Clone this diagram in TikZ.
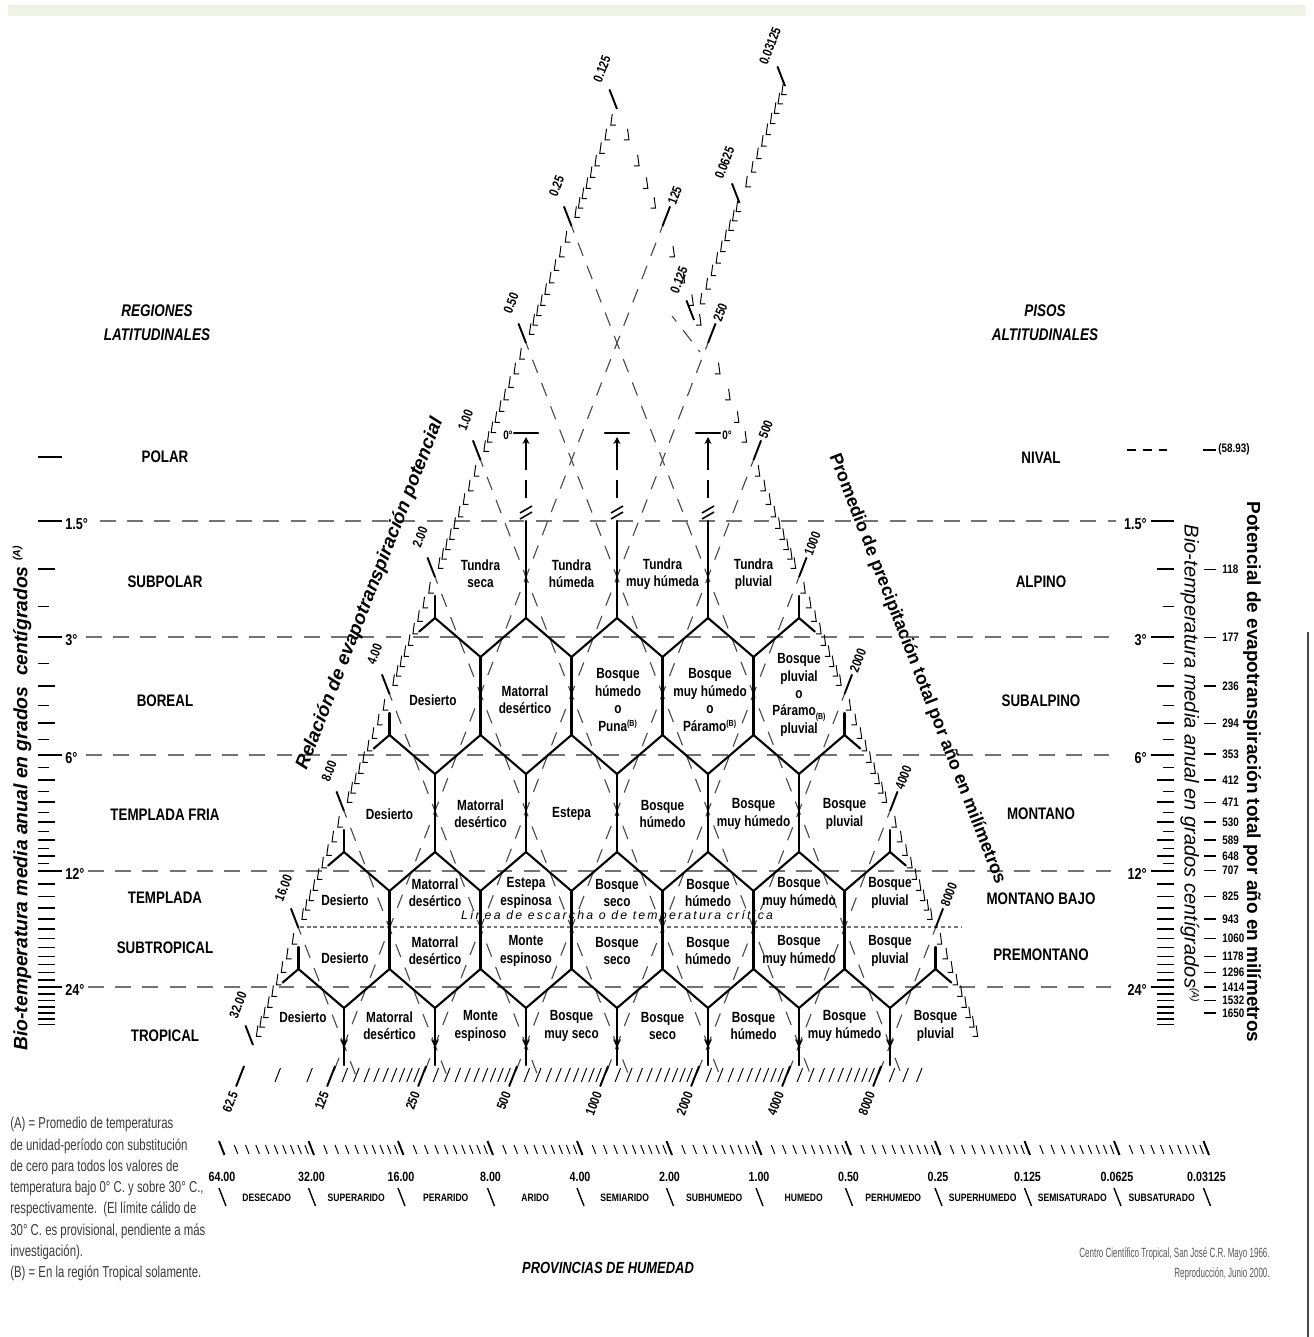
\documentclass[tikz,border=0pt]{standalone}
\usepackage{fontspec}
\setmainfont{Liberation Sans}
\newfontfamily\narrowfont{Liberation Sans}[FakeStretch=0.8]
\newfontfamily\notefont{Liberation Sans}[FakeStretch=0.72]
\newfontfamily\creditfont{Liberation Sans}[FakeStretch=0.6]
\newfontfamily\spacedfont{Liberation Sans}[LetterSpace=18]
\usetikzlibrary{arrows.meta}
\definecolor{InkGray}{HTML}{737373}
\definecolor{BandGreen}{HTML}{EEF4E2}
\definecolor{NoteGray}{HTML}{3A3A3A}
\definecolor{FrameGray}{HTML}{4A4A4A}
\newcommand{\supB}{\textsuperscript{\fontsize{5}{5}\selectfont(B)}}
\newcommand{\subB}{\raisebox{-0.4ex}{\fontsize{5}{5}\selectfont(B)}}
\newcommand{\supA}{\textsuperscript{\fontsize{6}{6}\selectfont(A)}}
\tikzset{
  hexedge/.style={line width=1.2pt, line cap=round, line join=round},
  templine/.style={draw=InkGray, line width=1.15pt, dash pattern=on 9pt off 6.5pt},
  gridline/.style={draw=black!70, line width=0.65pt, dash pattern=on 8pt off 6.22pt, dash phase=4pt},
  frostline/.style={draw=InkGray, line width=0.9pt, dash pattern=on 2.2pt off 1.6pt},
  minortick/.style={line width=0.55pt},
  majortick/.style={line width=1.1pt},
  zone/.style={font=\narrowfont\bfseries\fontsize{8.4}{9.9}\selectfont, align=center, inner sep=0pt},
  region/.style={font=\narrowfont\bfseries\fontsize{9.5}{11}\selectfont, inner sep=0pt},
  paneltitle/.style={font=\narrowfont\bfseries\itshape\fontsize{9.6}{13.5}\selectfont, align=center, inner sep=0pt},
  degree/.style={font=\narrowfont\bfseries\fontsize{9}{10}\selectfont, inner sep=0pt},
  petnum/.style={font=\narrowfont\bfseries\fontsize{7}{8}\selectfont, inner sep=0pt, anchor=west},
  scalenum/.style={font=\narrowfont\bfseries\fontsize{7.6}{9}\selectfont, inner sep=0pt},
  province/.style={font=\narrowfont\bfseries\fontsize{6.1}{8}\selectfont, inner sep=0pt},
  frosttext/.style={font=\spacedfont\itshape\fontsize{7}{8}\selectfont, inner sep=0pt},
}

\begin{document}
\begin{tikzpicture}[x=0.02cm, y=-0.02cm]
  \useasboundingbox (0,0) rectangle (1313,1337);
  \fill[BandGreen] (8,5) rectangle (1306,16);
  \draw[FrameGray, line width=1.3pt] (1308,632) -- (1308,1337);

  % triangle grid
  \foreach \dv in {0,-2,...,-12}
    \draw[gridline] ({617+45.5*(\dv/2-1)},{343+117*(-\dv/2-1)}) -- ({617+45.5*(\dv+6.256)},1075);
  \foreach \cv in {0,2,...,12}
    \draw[gridline] ({617+45.5*(\cv/2+1)},{343+117*(\cv/2-1)}) -- ({617+45.5*(\cv-6.256)},1075);
  \draw[gridline] (672,316) -- (700,352);

  % belts
  \foreach \yy/\xa in {521/100, 637/86, 755/86, 871/88, 987/88}
    \draw[templine] (\xa,\yy) -- (1116,\yy);
  \draw[frostline] (300,927) -- (962,927);
  \node[frosttext] (frost) at (617,916) {Línea de escarcha o de temperatura crítica};

  % hexagon edges
  \foreach \kk in {0,...,4}{
    \pgfmathtruncatemacro\mlast{2+\kk}
    \pgfmathsetmacro\ytop{\kk==0 ? 521 : 540+117*\kk}
    \pgfmathsetmacro\ybot{\kk==4 ? 1065 : 618+117*\kk}
    \foreach \mv in {0,...,\mlast}
      \draw[hexedge] ({526-45.5*\kk+91*\mv},\ytop) -- ({526-45.5*\kk+91*\mv},\ybot);
  }
  \foreach \kk in {0,...,3}{
    \pgfmathtruncatemacro\mlast{3+\kk}
    \pgfmathsetmacro\ybot{618+117*\kk}
    \foreach \mv in {-1,...,\mlast}{
      \pgfmathsetmacro\xj{526-45.5*\kk+91*\mv}
      \pgfmathsetmacro\wl{\mv==-1 ? 0.35 : 1}
      \pgfmathsetmacro\wr{\mv==\mlast ? 0.35 : 1}
      \draw[hexedge] ({\xj-45.5*\wl},{\ybot+39*\wl}) -- (\xj,\ybot) -- ({\xj+45.5*\wr},{\ybot+39*\wr});
    }
    \draw[hexedge] ({435-45.5*\kk},\ybot) -- ++(0,-22);
    \draw[hexedge] ({799+45.5*\kk},\ybot) -- ++(0,-22);
  }
  \foreach \mv in {0,...,6}
    \draw[hexedge, -{Stealth[length=5pt, width=4.5pt]}] ({344+91*\mv},1020) -- ({344+91*\mv},1048);

  % frost limit markers
  \foreach \xx in {526,617,708}{
    \draw[hexedge] ({\xx-12},433) -- ({\xx+12},433);
    \draw[line width=1.1pt, -{Stealth[length=4pt, width=4pt]}] (\xx,452) -- (\xx,437);
    \draw[line width=1.1pt, dash pattern=on 10pt off 6pt] (\xx,452) -- (\xx,505);
    \draw[line width=0.9pt] ({\xx-6},513) -- ({\xx+6},506) ({\xx-6},519) -- ({\xx+6},512);
  }
  \node[font=\narrowfont\bfseries\fontsize{7}{8}\selectfont, anchor=east, inner sep=0pt] (zeroL) at (513,435) {0°};
  \node[font=\narrowfont\bfseries\fontsize{7}{8}\selectfont, anchor=west, inner sep=0pt] (zeroR) at (722,435) {0°};

  % life zones
  \foreach \lab [count=\n] in {{Tundra\\seca},{Tundra\\húmeda},{Tundra\\muy húmeda},{Tundra\\pluvial}}
    \node[zone] (tundra\n) at ({389.5+91*\n},574) {\lab};
  \node[zone] (boreal1) at (433,700) {Desierto};
  \node[zone] (boreal2) at (525,700) {Matorral\\desértico};
  \node[zone] (boreal3) at (618,700) {Bosque\\húmedo\\o\\Puna\supB};
  \node[zone] (boreal4) at (710,700) {Bosque\\muy húmedo\\o\\Páramo\supB};
  \node[zone] (boreal5) at (799,695) {Bosque\\pluvial\\o\\Páramo\subB\\pluvial};
  \foreach \lab [count=\n] in {Desierto,{Matorral\\desértico},Estepa,{Bosque\\húmedo},{Bosque\\muy húmedo},{Bosque\\pluvial}}
    \node[zone] (fria\n) at ({298.5+91*\n},814) {\lab};
  \node[zone] (templ0) at (345,900) {Desierto};
  \foreach \lab [count=\n] in {{Matorral\\desértico},{Estepa\\espinosa},{Bosque\\seco},{Bosque\\húmedo},{Bosque\\muy húmedo},{Bosque\\pluvial}}
    \node[zone] (templ\n) at ({344+91*\n},893) {\lab};
  \node[zone] (subtr0) at (345,958) {Desierto};
  \foreach \lab [count=\n] in {{Matorral\\desértico},{Monte\\espinoso},{Bosque\\seco},{Bosque\\húmedo},{Bosque\\muy húmedo},{Bosque\\pluvial}}
    \node[zone] (subtr\n) at ({344+91*\n},951) {\lab};
  \node[zone] (trop0) at (303,1017) {Desierto};
  \foreach \lab [count=\n] in {{Matorral\\desértico},{Monte\\espinoso},{Bosque\\muy seco},{Bosque\\seco},{Bosque\\húmedo},{Bosque\\muy húmedo},{Bosque\\pluvial}}
    \node[zone] (trop\n) at ({298.5+91*\n},1026) {\lab};

  % left and right belt names
  \node[paneltitle] (regiones) at (157,323) {REGIONES\\LATITUDINALES};
  \node[paneltitle] (pisos) at (1045,323) {PISOS\\ALTITUDINALES};
  \foreach \lab/\yy [count=\n] in {POLAR/457, SUBPOLAR/582, BOREAL/701, TEMPLADA FRIA/815, TEMPLADA/898, SUBTROPICAL/948, TROPICAL/1036}
    \node[region] (lat\n) at (165,\yy) {\lab};
  \foreach \lab/\yy [count=\n] in {NIVAL/458, ALPINO/582, SUBALPINO/701, MONTANO/814, MONTANO BAJO/899, PREMONTANO/955}
    \node[region] (alt\n) at (1041,\yy) {\lab};

  % biotemperature scales
  \draw[majortick, line width=1.6pt] (38,457) -- (62,457);
  \foreach \yy/\lab [count=\n] in {521/1.5°, 637/3°, 755/6°, 871/12°, 987/24°}{
    \draw[majortick, line width=1.6pt] (38,\yy) -- (62,\yy);
    \draw[majortick, line width=1.6pt] (1151,\yy) -- (1174,\yy);
    \node[degree, anchor=west] (degL\n) at (65,{\yy+3}) {\lab};
    \node[degree, anchor=east] (degR\n) at (1147,{\yy+3}) {\lab};
  }
  \foreach \tv in {2.5,3.5,4.5,5.5,6.5,7.5,8.5,9.5,10.5,11.5}{
    \pgfmathsetmacro\yy{521+116.5*ln(\tv/1.5)/ln(2)}
    \draw[minortick] (38,\yy) -- (49,\yy);
    \draw[minortick] (1163,\yy) -- (1174,\yy);
  }
  \foreach \tv in {2,4,5,7,8,9,10,11}{
    \pgfmathsetmacro\yy{521+116.5*ln(\tv/1.5)/ln(2)}
    \draw[minortick, line width=1.1pt] (38,\yy) -- (55,\yy);
    \draw[minortick, line width=1.1pt] (1157,\yy) -- (1174,\yy);
  }
  \foreach \tv in {13,14,15,16,17,18,19,20,21,22,23,25,26,27,28,29,30}{
    \pgfmathsetmacro\yy{521+116.5*ln(\tv/1.5)/ln(2)}
    \draw[minortick, line width=0.8pt] (38,\yy) -- (55,\yy);
    \draw[minortick, line width=0.8pt] (1157,\yy) -- (1174,\yy);
  }

  % potential evapotranspiration scale
  \draw[minortick, line width=0.9pt, dash pattern=on 5pt off 4pt] (1127,450) -- (1172,450);
  \draw[majortick, line width=1.5pt] (1203,450) -- (1216,450);
  \node[petnum] (pet1) at (1218,449) {(58.93)};
  \foreach \tv/\lab in {2/118,3/177,4/236,5/294,6/353,7/412,8/471,9/530,10/589,11/648,12/707,14/825,16/943,18/1060,20/1178,22/1296,24/1414,26/1532,28/1650}{
    \pgfmathsetmacro\yy{521+116.5*ln(\tv/1.5)/ln(2)}
    \draw[minortick, line width=0.8pt] (1204,\yy) -- (1216,\yy);
    \node[petnum] (pet\tv) at (1222,\yy) {\lab};
  }

  % axis titles
  \node[font=\bfseries\itshape\fontsize{11}{12}\selectfont, rotate=90, inner sep=0pt] (biotempL) at (22,798) {Bio-temperatura media anual en grados\ \ centígrados \supA};
  \node[font=\itshape\fontsize{11.4}{12}\selectfont, rotate=-90, inner sep=0pt] (biotempR) at (1190,764) {Bio-temperatura media anual en grados centígrados\supA};
  \node[font=\bfseries\fontsize{10.8}{12}\selectfont, rotate=-90, inner sep=0pt] (petaxis) at (1252,772) {Potencial de evapotranspiración total por año en milímetros};
  \node[font=\bfseries\itshape\fontsize{10.8}{12}\selectfont, rotate=68.75, inner sep=0pt] (ratioaxis) at (370,594) {Relación de evapotranspiración potencial};
  \node[font=\bfseries\fontsize{10.2}{12}\selectfont, rotate=-68.75, inner sep=0pt] (precaxis) at (917,669) {Promedio de precipitación total por año en milímetros};

  % evapotranspiration ratio side
  \foreach \jv in {-2,...,5}
    \foreach \kv in {1,...,9}{
      \pgfmathsetmacro\s{\jv+ln(1+\kv/10)/ln(2)}
      \pgfmathsetmacro\px{526-45.5*\s}
      \pgfmathsetmacro\py{343+117*\s}
      \draw[minortick] ({\px+1.5},{\py-11}) -- (\px,\py) -- ({\px+5},\py);
    }
  \foreach \lab [count=\n] in {0.125,0.25,0.50,1.00,2.00,4.00,8.00,16.00,32.00}{
    \pgfmathsetmacro\s{\n-3}
    \draw[majortick] ({526-45.5*\s},{343+117*\s}) -- ++(-7.6,-19.6);
    \node[scalenum, rotate=68.75] (ratio\n) at ({526-45.5*\s-15},{343+117*\s-40}) {\lab};
  }
  \foreach \jv in {0,1}
    \foreach \kv in {1,...,9}{
      \pgfmathsetmacro\s{\jv+ln(1+\kv/10)/ln(2)}
      \pgfmathsetmacro\px{694+45.5*\s}
      \pgfmathsetmacro\py{320-117*\s}
      \draw[minortick] ({\px+1.5},{\py-11}) -- (\px,\py) -- ({\px+5},\py);
    }
  \foreach \lab [count=\n] in {0.125,0.0625,0.03125}{
    \pgfmathsetmacro\s{\n-1}
    \draw[majortick] ({694+45.5*\s},{320-117*\s}) -- ++(-7.6,-19.6);
    \node[scalenum, rotate=68.75] (topratio\n) at ({694+45.5*\s-15},{320-117*\s-40}) {\lab};
  }

  % precipitation side
  \foreach \jv in {-2,-1,0}
    \foreach \kv in {2,4,6,8}{
      \pgfmathsetmacro\s{\jv+ln(1+\kv/10)/ln(2)}
      \pgfmathsetmacro\px{708+45.5*\s}
      \pgfmathsetmacro\py{343+117*\s}
      \draw[minortick] ({\px-1.5},{\py-11}) -- (\px,\py) -- ({\px-5},\py);
    }
  \foreach \jv in {1,...,5}
    \foreach \kv in {1,...,9}{
      \pgfmathsetmacro\s{\jv+ln(1+\kv/10)/ln(2)}
      \pgfmathsetmacro\px{708+45.5*\s}
      \pgfmathsetmacro\py{343+117*\s}
      \draw[minortick] ({\px-1.5},{\py-11}) -- (\px,\py) -- ({\px-5},\py);
    }
  \foreach \lab [count=\n] in {125,250,500,1000,2000,4000,8000}{
    \pgfmathsetmacro\s{\n-2}
    \draw[majortick] ({708+45.5*\s},{343+117*\s}) -- ++(7.6,-19.6);
    \node[scalenum, rotate=68.75, anchor=west] (prec\n) at ({708+45.5*\s+9},{343+117*\s-22}) {\lab};
  }

  % base of the triangle
  \foreach \cv in {0,2,...,10}
    \foreach \kv in {1,...,9}{
      \pgfmathsetmacro\cc{\cv+2*ln(1+\kv/10)/ln(2)}
      \draw[minortick] ({617+45.5*(\cc-6.196)},1068) -- ++(-5.5,14);
    }
  \foreach \cc in {-1.2,-0.5,12.3,12.6,12.9}
    \draw[minortick] ({617+45.5*(\cc-6.196)},1068) -- ++(-5.5,14);
  \foreach \lab [count=\n] in {62.5,125,250,500,1000,2000,4000,8000}{
    \pgfmathsetmacro\cc{2*\n-4}
    \draw[majortick] ({617+45.5*(\cc-6.196)},1066) -- ++(-8,20.5);
    \node[scalenum, rotate=68.75, anchor=east] (base\n) at ({617+45.5*(\cc-6.196)-10},1092) {\lab};
  }

  % humidity provinces
  \foreach \nv in {0,...,10}
    \foreach \kv in {1,...,9}{
      \pgfmathsetmacro\xx{222+89.5*\nv+89.5*ln(1+\kv/10)/ln(2)}
      \draw[minortick] (\xx,1145) -- ++(3.5,9);
    }
  \foreach \lab [count=\n from 0] in {64.00,32.00,16.00,8.00,4.00,2.00,1.00,0.50,0.25,0.125,0.0625,0.03125}{
    \draw[majortick] ({222+89.5*\n-3},1141) -- ++(5.5,14);
    \node[scalenum] (ratioB\n) at ({222+89.5*\n},1177) {\lab};
    \draw[minortick, line width=0.8pt] ({222+89.5*\n-3},1188) -- ++(7,18);
  }
  \foreach \lab [count=\n from 0] in {DESECADO,SUPERARIDO,PERARIDO,ARIDO,SEMIARIDO,SUBHUMEDO,HUMEDO,PERHUMEDO,SUPERHUMEDO,SEMISATURADO,SUBSATURADO}
    \node[province] (prov\n) at ({266.75+89.5*\n},1198) {\lab};
  \node[font=\narrowfont\bfseries\itshape\fontsize{9.2}{11}\selectfont, inner sep=0pt] (provincias) at (608,1268) {PROVINCIAS DE HUMEDAD};

  % notes
  \node[anchor=north west, align=left, inner sep=0pt, text=NoteGray, font=\notefont\fontsize{9}{12.1}\selectfont] (notes) at (10,1117)
    {(A) = Promedio de temperaturas\\de unidad-período con substitución\\de cero para todos los valores de\\temperatura bajo 0° C. y sobre 30° C.,\\respectivamente.\ \ (El límite cálido de\\30° C. es provisional, pendiente a más\\investigación).\\(B) = En la región Tropical solamente.};
  \node[anchor=north east, align=right, inner sep=0pt, text=NoteGray!85, font=\creditfont\fontsize{7.6}{11.3}\selectfont] (credits) at (1270,1247)
    {Centro Científico Tropical, San José C.R. Mayo 1966.\\Reproducción, Junio 2000.};
\end{tikzpicture}
\end{document}
